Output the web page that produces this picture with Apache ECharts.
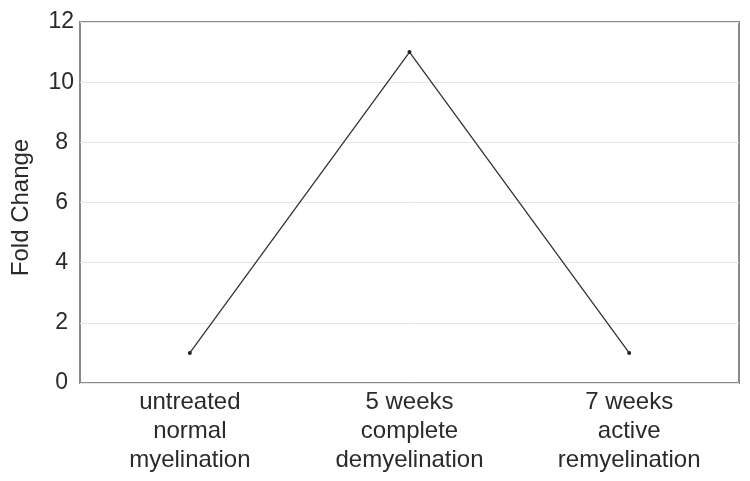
<!DOCTYPE html>
<html><head><meta charset="utf-8">
<script src="https://cdn.jsdelivr.net/npm/echarts@6/dist/echarts.min.js"></script>
<style>html,body{margin:0;padding:0;background:#fff}#c{width:750px;height:481px}</style>
</head><body><div id="c"></div>
<script>
const categories = ["untreated\nnormal\nmyelination", "5 weeks\ncomplete\ndemyelination", "7 weeks\nactive\nremyelination"];
const foldChange = [1, 11, 1];
const yTicks = {min: 0, max: 12, interval: 2};
const yTitle = "Fold Change";

const font = 'Liberation Sans, Arial, sans-serif';
const chart = echarts.init(document.getElementById('c'), null, {renderer: 'canvas'});
chart.setOption({
  animation: false,
  grid: {left: 80, top: 22, right: 11, bottom: 98, containLabel: false, outerBoundsMode: 'none', show: true, borderColor: '#8a8a8a', borderWidth: 2, backgroundColor: 'transparent'},
  xAxis: {
    type: 'category', data: categories, boundaryGap: true,
    axisLine: {show: false}, axisTick: {show: false},
    axisLabel: {color: '#2a2a2a', fontSize: 24, fontFamily: font, lineHeight: 29, margin: 5}
  },
  yAxis: {
    type: 'value', min: yTicks.min, max: yTicks.max, interval: yTicks.interval,
    name: yTitle, nameLocation: 'middle', nameRotate: 90, nameGap: 47,
    nameTextStyle: {color: '#2a2a2a', fontSize: 24, fontFamily: font, padding: [0, 10, 0, 0]},
    axisLine: {show: false}, axisTick: {show: false},
    axisLabel: {
      color: '#2a2a2a', fontSize: 23, fontFamily: font, margin: 6,
      formatter: v => (v >= 10 ? '{a|' + v + '}' : '{b|' + v + '}'),
      rich: {
        a: {color: '#2a2a2a', fontSize: 23, fontFamily: font},
        b: {color: '#2a2a2a', fontSize: 23, fontFamily: font, padding: [0, 6, 0, 0]}
      }
    },
    splitLine: {show: true, lineStyle: {color: '#e6e6e6', width: 1}}
  },
  series: [{
    type: 'line', data: foldChange,
    symbol: 'circle', symbolSize: 4,
    itemStyle: {color: '#222'},
    lineStyle: {color: '#333', width: 1.3}
  }]
});
</script></body></html>
